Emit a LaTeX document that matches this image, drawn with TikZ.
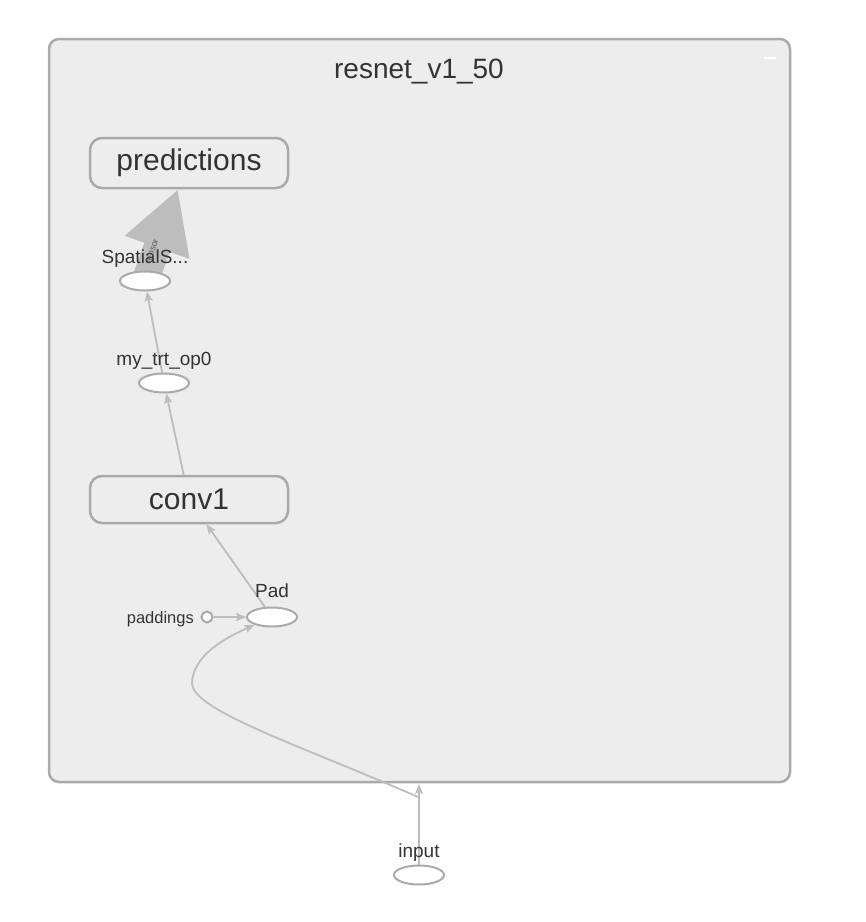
\documentclass[tikz,border=0pt]{standalone}
\usepackage{fontspec}
\setmainfont{Liberation Sans}
\usetikzlibrary{positioning,arrows.meta,shapes.geometric,calc}
\definecolor{tbedge}{HTML}{BDBDBD}
\definecolor{tbborder}{HTML}{AAAAAA}
\definecolor{tbfill}{HTML}{EDEDED}
\definecolor{tbtext}{HTML}{333333}
\pgfdeclarelayer{bg}
\pgfdeclarelayer{edges}
\pgfsetlayers{bg,edges,main}

\begin{document}
\begin{tikzpicture}[x=1pt, y=-1pt,
    group/.style={draw=tbborder, fill=tbfill, line width=2.5pt, rounded corners=10pt, inner sep=0pt},
    block/.style={draw=tbborder, fill=tbfill, line width=2.5pt, rounded corners=12pt, minimum width=198pt, minimum height=50pt, text=tbtext, font=\fontsize{30}{32}\selectfont},
    op/.style={ellipse, draw=tbborder, fill=white, line width=2pt, minimum width=50pt, minimum height=19pt, inner sep=0pt},
    lbl/.style={text=tbtext, inner sep=0pt, anchor=base, font=\fontsize{19}{21}\selectfont},
    arrow/.style={draw=tbedge, line width=1.8pt, -{Stealth[length=10pt, width=8pt, inset=2pt]}},
]
\useasboundingbox (0,0) rectangle (866,922);

% group box
\begin{pgfonlayer}{bg}
\node[group, minimum width=741pt, minimum height=743pt] (grp) at (419.5,410.5) {};
\end{pgfonlayer}
\node[text=tbtext, font=\fontsize{28}{30}\selectfont] (title) at (419,72) {resnet\_v1\_50};
\node[fill=white, minimum width=12pt, minimum height=2.5pt, inner sep=0pt] (collapse) at (770,58) {};

% nodes
\node[block] (pred) at (189,163) {predictions};
\node[block, minimum height=47pt] (conv) at (189,499.5) {conv1};
\node[op] (sp) at (145,281) {};
\node[op] (trt) at (164,383) {};
\node[op] (pad) at (272,617) {};
\node[op] (inp) at (419,875) {};
\node[circle, draw=tbborder, fill=white, line width=2pt, minimum size=11pt, inner sep=0pt] (pdg) at (207,617) {};

\node[lbl] (splbl) at ([yshift=18pt]sp.center) {SpatialS...};
\node[lbl] (trtlbl) at ([yshift=18pt]trt.center) {my\_trt\_op0};
\node[lbl] (padlbl) at ([yshift=20pt]pad.center) {Pad};
\node[lbl] (inplbl) at ([yshift=18pt]inp.center) {input};
\node[lbl, anchor=base east, font=\fontsize{16.5}{18}\selectfont] (pdglbl) at ([xshift=-13pt, yshift=-6pt]pdg.center) {paddings};

% edges
\coordinate (predTip) at (178,189);
\coordinate (inTip) at (419,784);
\coordinate (inSrc) at (418,797);
\begin{pgfonlayer}{edges}
\draw[draw=tbedge, line width=27pt, -{Triangle[length=62pt 0 0, width=64pt 0 0]}] (sp.center) -- (predTip);
\draw[arrow] (trt) -- (sp);
\draw[arrow] (conv) -- (trt);
\draw[arrow] (pad) -- (conv);
\draw[arrow] (pdg) -- (pad);
\draw[arrow] (inp) -- (inTip);
\draw[arrow] (inSrc) .. controls (300,745) and (190,710) .. (192,682) .. controls (194,655) and (225,638) .. (pad);
\end{pgfonlayer}
\node[text=tbtext!80, rotate=70, inner sep=0pt, font=\fontsize{9}{10}\selectfont] (tlbl) at (152,251) {tensor};
\end{tikzpicture}
\end{document}
